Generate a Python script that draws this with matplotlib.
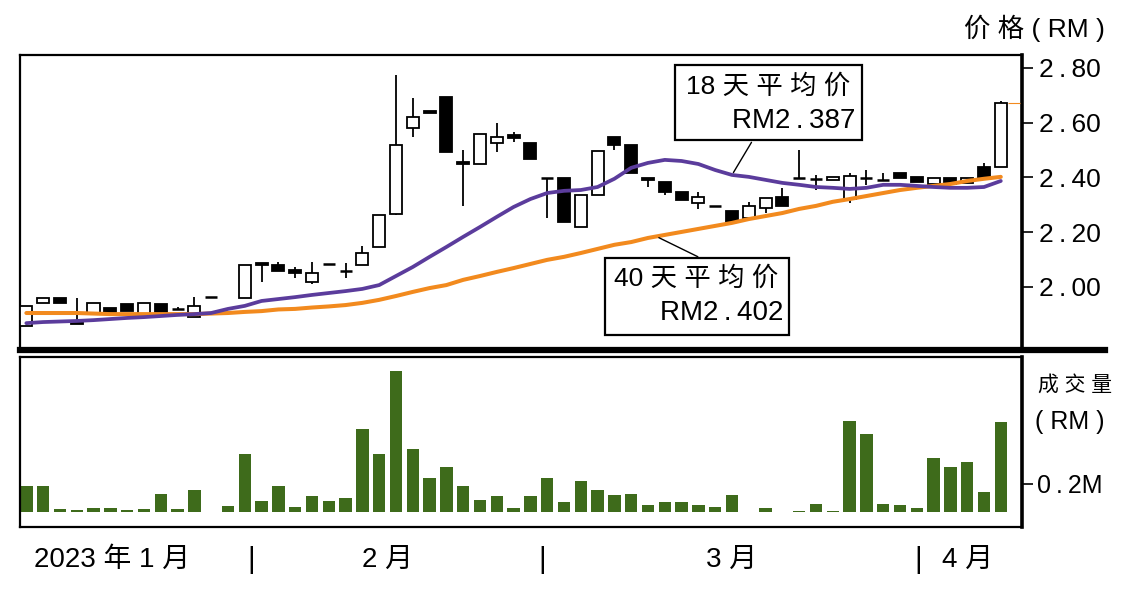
import numpy as np
import matplotlib
matplotlib.use("Agg")
import matplotlib.pyplot as plt
from matplotlib.patches import Rectangle
from matplotlib.lines import Line2D
from matplotlib.transforms import blended_transform_factory

plt.rcParams['font.family'] = ['Liberation Sans', 'Noto Sans CJK SC', 'DejaVu Sans']

nan = np.nan

# Daily candles (one slot per trading day)
opens = [1.858, 1.942, 1.960, 1.876, 1.901, 1.923, 1.938, 1.890, 1.938, 1.920, 1.890,
         1.963, nan, 1.960, 2.088, 2.080, 2.062, 2.018, 2.084, 2.058, 2.080, 2.146,
         2.267, 2.581, 2.643, 2.694, 2.457, 2.449, 2.526, 2.555, 2.526, 2.398, 2.398,
         2.219, 2.336, 2.548, 2.519, 2.398, 2.384, 2.347, 2.307, 2.296, 2.278, 2.252,
         2.289, 2.329, 2.398, 2.394, 2.391, 2.321, 2.398, 2.391, 2.416, 2.402, 2.376,
         2.398, 2.380, 2.438, 2.438]
closes = [1.931, 1.960, 1.942, 1.865, 1.942, 1.909, 1.912, 1.942, 1.909, 1.920, 1.931,
          1.963, nan, 2.080, 2.080, 2.058, 2.051, 2.051, 2.084, 2.058, 2.124, 2.263,
          2.519, 2.621, 2.636, 2.493, 2.449, 2.559, 2.548, 2.544, 2.468, 2.398, 2.237,
          2.336, 2.497, 2.519, 2.416, 2.391, 2.347, 2.318, 2.329, 2.296, 2.237, 2.296,
          2.325, 2.296, 2.398, 2.394, 2.402, 2.405, 2.398, 2.391, 2.398, 2.384, 2.398,
          2.376, 2.398, 2.398, 2.672]
highs = [1.931, 1.960, 1.960, 1.960, 1.942, 1.923, 1.938, 1.942, 1.938, 1.927, 1.963,
         1.963, nan, 2.080, 2.088, 2.091, 2.073, 2.091, 2.084, 2.088, 2.150, 2.263,
         2.774, 2.690, 2.643, 2.694, 2.500, 2.559, 2.599, 2.566, 2.526, 2.398, 2.398,
         2.336, 2.497, 2.548, 2.519, 2.398, 2.384, 2.347, 2.347, 2.296, 2.278, 2.311,
         2.325, 2.362, 2.500, 2.409, 2.402, 2.416, 2.427, 2.416, 2.416, 2.402, 2.398,
         2.398, 2.398, 2.453, 2.680]
lows = [1.858, 1.942, 1.942, 1.865, 1.901, 1.909, 1.912, 1.890, 1.894, 1.916, 1.890,
        1.963, nan, 1.960, 2.018, 2.058, 2.033, 2.011, 2.084, 2.033, 2.080, 2.146,
        2.263, 2.548, 2.636, 2.493, 2.296, 2.449, 2.493, 2.530, 2.468, 2.252, 2.237,
        2.219, 2.336, 2.500, 2.416, 2.365, 2.336, 2.318, 2.285, 2.296, 2.237, 2.252,
        2.270, 2.296, 2.398, 2.354, 2.391, 2.307, 2.373, 2.391, 2.398, 2.384, 2.376,
        2.376, 2.380, 2.398, 2.438]

# Volume in RM million
volumes = [0.186, 0.186, 0.02, 0.012, 0.024, 0.024, 0.012, 0.02, 0.124, 0.02, 0.155,
           0, 0.04, 0.41, 0.08, 0.186, 0.036, 0.114, 0.08, 0.10, 0.59, 0.41,
           1.0, 0.445, 0.238, 0.32, 0.186, 0.083, 0.112, 0.024, 0.112, 0.238, 0.073,
           0.22, 0.154, 0.117, 0.127, 0.049, 0.073, 0.068, 0.049, 0.037, 0.117, 0,
           0.024, 0, 0.008, 0.056, 0.008, 0.646, 0.55, 0.056, 0.049, 0.024, 0.38,
           0.32, 0.355, 0.14, 0.635]

# Moving averages
ma18 = [1.868, 1.872, 1.874, 1.876, 1.879, 1.883, 1.887, 1.890, 1.894, 1.898, 1.901,
        1.905, 1.920, 1.931, 1.949, 1.956, 1.963, 1.971, 1.978, 1.985, 1.993, 2.007,
        2.040, 2.073, 2.110, 2.146, 2.183, 2.219, 2.256, 2.292, 2.321, 2.343, 2.351,
        2.354, 2.365, 2.395, 2.435, 2.453, 2.464, 2.460, 2.449, 2.427, 2.409, 2.402,
        2.391, 2.380, 2.373, 2.365, 2.362, 2.358, 2.362, 2.373, 2.373, 2.369, 2.365,
        2.362, 2.362, 2.365, 2.387]
ma40 = [1.905, 1.905, 1.905, 1.905, 1.903, 1.901, 1.901, 1.901, 1.901, 1.901, 1.901,
        1.903, 1.905, 1.909, 1.912, 1.918, 1.920, 1.925, 1.929, 1.934, 1.942, 1.953,
        1.967, 1.982, 1.996, 2.007, 2.026, 2.040, 2.055, 2.069, 2.084, 2.099, 2.110,
        2.124, 2.139, 2.154, 2.164, 2.179, 2.190, 2.201, 2.212, 2.223, 2.234, 2.248,
        2.259, 2.270, 2.285, 2.296, 2.311, 2.321, 2.332, 2.343, 2.354, 2.362, 2.369,
        2.376, 2.387, 2.395, 2.402]

TS = "\u2009"  # thin space, the source sets its numbers with loose tracking
price_ticks = [2.00, 2.20, 2.40, 2.60, 2.80]
price_labels = [f"{p:.2f}".replace(".", TS + "." + TS) for p in price_ticks]
month_labels = ["2023 年 1 月", "2 月", "3 月", "4 月"]
month_label_pos = [5.1, 21.5, 42.0, 56.0]
month_sep_pos = [13.4, 30.7, 53.1]

PURPLE = "#5b3c9c"
ORANGE = "#f28a1e"
GREEN = "#3e6b1b"

x = np.arange(len(opens))

fig = plt.figure(figsize=(11.34, 5.93), dpi=100)
ax = fig.add_axes([0.0176, 0.4098, 0.8836, 0.4975])
axv = fig.add_axes([0.0176, 0.1113, 0.8836, 0.2875])

# ---- candles ----
w = 0.72
for i in x:
    o, h, l, c = opens[i], highs[i], lows[i], closes[i]
    if np.isnan(o):
        continue
    if h > l:
        ax.vlines(i, l, h, color="black", lw=1.3, zorder=2)
    if c > o:
        ax.add_patch(Rectangle((i - w / 2, o), w, c - o, facecolor="white",
                               edgecolor="black", lw=1.3, zorder=3))
    elif c < o:
        ax.add_patch(Rectangle((i - w / 2, c), w, o - c, facecolor="black",
                               edgecolor="black", lw=1.3, zorder=3))
    else:
        ax.hlines(c, i - w / 2, i + w / 2, color="black", lw=1.8, zorder=3)

# last price marker
ax.hlines(closes[-1], x[-1] + 0.4, x[-1] + 1.15, color=ORANGE, lw=0.8, zorder=3)

ax.plot(x, ma40, color=ORANGE, lw=2.9, zorder=4, solid_capstyle="round")
ax.plot(x, ma18, color=PURPLE, lw=2.7, zorder=5, solid_capstyle="round")

ax.set_xlim(-0.38, 59.26)
ax.set_ylim(1.770, 2.847)
ax.set_xticks([])
ax.yaxis.tick_right()
ax.set_yticks(price_ticks)
ax.set_yticklabels(price_labels)
ax.tick_params(axis="y", direction="out", length=8, width=1.2, pad=4, labelsize=19)
for s in ax.spines.values():
    s.set_linewidth(1.6)
ax.spines["right"].set_linewidth(2.6)
ax.spines["bottom"].set_visible(False)

# annotation boxes
ax.add_patch(Rectangle((0.654, 0.712), 0.186, 0.254, transform=ax.transAxes,
                       facecolor="white", edgecolor="black", lw=1.6, zorder=6))
ax.text(0.665, 0.892, "18 天 平 均 价", transform=ax.transAxes, fontsize=19,
        ha="left", va="center", zorder=7)
ax.text(0.834, 0.776, "RM2" + TS + "." + TS + "387", transform=ax.transAxes,
        fontsize=20, ha="right", va="center", zorder=7)
ax.annotate("", xy=(42, ma18[42]), xytext=(0.7315, 0.712), textcoords="axes fraction",
            arrowprops=dict(arrowstyle="-", color="black", lw=1.0), zorder=6)

ax.add_patch(Rectangle((0.584, 0.051), 0.184, 0.261, transform=ax.transAxes,
                       facecolor="white", edgecolor="black", lw=1.6, zorder=6))
ax.text(0.593, 0.241, "40 天 平 均 价", transform=ax.transAxes, fontsize=19,
        ha="left", va="center", zorder=7)
ax.text(0.762, 0.125, "RM2" + TS + "." + TS + "402", transform=ax.transAxes,
        fontsize=20, ha="right", va="center", zorder=7)
ax.annotate("", xy=(37.5, (ma40[37] + ma40[38]) / 2), xytext=(0.679, 0.312),
            textcoords="axes fraction",
            arrowprops=dict(arrowstyle="-", color="black", lw=1.0), zorder=6)

# ---- volume ----
axv.bar(x, volumes, width=0.74, color=GREEN, zorder=2)
axv.set_xlim(-0.38, 59.26)
axv.set_ylim(-0.107, 1.1)
axv.set_xticks([])
axv.yaxis.tick_right()
axv.set_yticks([0.2])
axv.set_yticklabels(["0" + TS + "." + TS + "2M"])
axv.tick_params(axis="y", direction="out", length=8, width=1.2, pad=3, labelsize=18)
for s in axv.spines.values():
    s.set_linewidth(1.6)
axv.spines["right"].set_linewidth(2.6)

# thick separator between panels
fig.add_artist(Line2D([20 / 1134, 1105 / 1134], [1 - 350 / 593] * 2,
                      transform=fig.transFigure, color="black", lw=4.5))

# axis titles
fig.text(0.974, 0.953, "价 格 ( RM )", fontsize=19, ha="right", va="center")
fig.text(0.915, 0.351, "成 交 量", fontsize=15, ha="left", va="center")
fig.text(0.913, 0.288, "( RM )", fontsize=18, ha="left", va="center")

# month labels under the volume panel
trans = blended_transform_factory(axv.transData, fig.transFigure)
for pos, lab in zip(month_label_pos, month_labels):
    fig.text(pos, 0.0557, lab, transform=trans, fontsize=20, ha="center", va="center")
for pos in month_sep_pos:
    fig.text(pos, 0.0557, "|", transform=trans, fontsize=21, ha="center", va="center")

fig.savefig("out.png", dpi=100, facecolor="white")
